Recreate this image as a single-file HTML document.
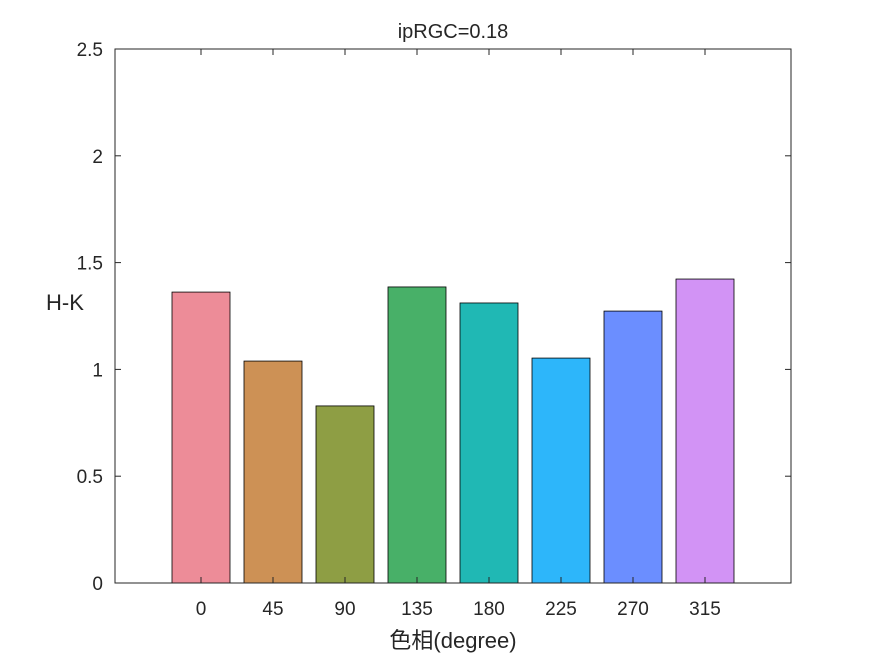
<!DOCTYPE html>
<html><head><meta charset="utf-8"><style>
body{margin:0;background:#fff;}
svg text{font-family:"Liberation Sans","Noto Sans CJK JP",sans-serif;fill:#262626;}
</style></head><body>
<svg width="875" height="656" xmlns="http://www.w3.org/2000/svg">
<rect width="875" height="656" fill="#fff"/>
<g id="plot"></g>
</svg>
<script>
const categories=["0","45","90","135","180","225","270","315"];
const values=[1.362,1.039,0.829,1.386,1.311,1.053,1.273,1.423];
const colors=["#ED8C98","#CD9155","#8E9E44","#48B068","#20B8B4","#2DB6FA","#6B8EFF","#D293F5"];
const yTicks=[0,0.5,1,1.5,2,2.5];
const yTickLabels=["0","0.5","1","1.5","2","2.5"];
const L=115,R=791,T=49,B=583,yMax=2.5;
const ns="http://www.w3.org/2000/svg";
const g=document.getElementById('plot');
function y(v){return B-(v/yMax)*(B-T);}
function x(i){return 201+i*72;}
function mk(tag,a,p){const e=document.createElementNS(ns,tag);for(const k in a)e.setAttribute(k,a[k]);(p||g).appendChild(e);return e;}
values.forEach((v,i)=>{
  const r=mk('rect',{x:x(i)-29,y:y(v),width:58,height:B-y(v),fill:colors[i],stroke:"#000","stroke-width":0.8});
  
  
});
const ax=mk('rect',{x:L,y:T,width:R-L,height:B-T,fill:"none",stroke:"#262626","stroke-width":1});


yTicks.forEach((t,i)=>{
  mk('line',{x1:L,x2:L+6,y1:y(t),y2:y(t),stroke:"#262626"});
  mk('line',{x1:R,x2:R-6,y1:y(t),y2:y(t),stroke:"#262626"});
  const tx=mk('text',{x:L-12,y:y(t)+7,"text-anchor":"end","font-size":19});
  tx.textContent=yTickLabels[i];
  
  
});
categories.forEach((c,i)=>{
  mk('line',{x1:x(i),x2:x(i),y1:B,y2:B-6,stroke:"#262626"});
  mk('line',{x1:x(i),x2:x(i),y1:T,y2:T+6,stroke:"#262626"});
  const tx=mk('text',{x:x(i),y:B+32,"text-anchor":"middle","font-size":19});
  tx.textContent=c;
  
  
});
const title=mk('text',{x:453,y:38,"text-anchor":"middle","font-size":20});
title.textContent="ipRGC=0.18";


const xl=mk('text',{x:453,y:648,"text-anchor":"middle","font-size":22});
xl.textContent="色相(degree)";


const yl=mk('text',{x:65,y:310,"text-anchor":"middle","font-size":22});
yl.textContent="H-K";


</script>
</body></html>
